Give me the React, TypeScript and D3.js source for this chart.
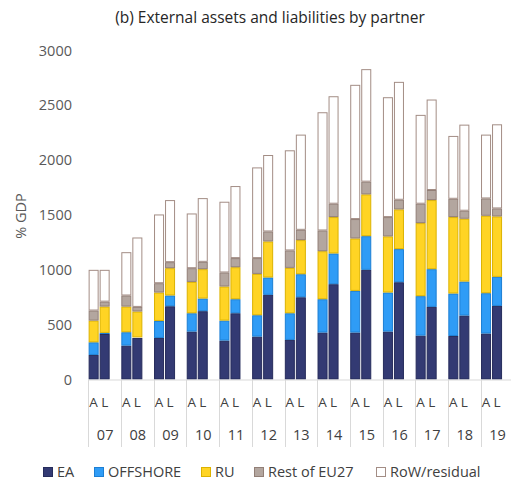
import { useEffect, useRef } from 'react';
import * as d3 from 'd3';

// años y sub-categorías (A = activos, L = pasivos)
const years = ['07', '08', '09', '10', '11', '12', '13', '14', '15', '16', '17', '18', '19'];
const sides = ['A', 'L'];

// valores (% del PIB)
const eaA = [224, 309, 379, 437, 355, 391, 361, 428, 428, 437, 400, 397, 419];
const eaL = [415, 379, 668, 623, 604, 772, 750, 869, 1000, 887, 662, 583, 671];
const offA = [115, 122, 155, 167, 182, 195, 243, 304, 380, 356, 360, 387, 368];
const offL = [10, 5, 98, 115, 128, 158, 210, 280, 307, 302, 344, 310, 265];
const ruA = [198, 234, 259, 286, 311, 377, 414, 438, 478, 512, 666, 697, 706];
const ruL = [240, 236, 249, 268, 292, 329, 311, 332, 381, 362, 630, 573, 551];
const euA = [92, 101, 85, 125, 128, 144, 159, 189, 177, 176, 177, 167, 158];
const euL = [45, 42, 55, 67, 83, 91, 94, 122, 116, 88, 92, 73, 73];
const rowA = [371, 395, 627, 499, 645, 827, 913, 1078, 1224, 1093, 810, 573, 582];
const rowL = [290, 633, 566, 581, 657, 697, 868, 980, 1026, 1075, 825, 785, 767];

const yTicks = [0, 500, 1000, 1500, 2000, 2500, 3000];

const series = [
  { key: 'EA', fill: '#333a73', stroke: '#262c5c' },
  { key: 'OFFSHORE', fill: '#2f9cf6', stroke: '#1c7fd4' },
  { key: 'RU', fill: '#ffd424', stroke: '#dcb200' },
  { key: 'Rest of EU27', fill: '#b3a69f', stroke: '#927f77' },
  { key: 'RoW/residual', fill: '#ffffff', stroke: '#a38d85' },
];

const FONT = '"Open Sans", sans-serif';

const App = () => {
  const svgRef = useRef<SVGSVGElement>(null);

  useEffect(() => {
    if (!svgRef.current) return;
    const svg = d3.select(svgRef.current);
    svg.selectAll('*').remove();

    // tabla plana: una fila por año y lado
    const rows = years.flatMap((yr, i) => [
      { year: yr, side: 'A', EA: eaA[i], OFFSHORE: offA[i], RU: ruA[i], 'Rest of EU27': euA[i], 'RoW/residual': rowA[i] },
      { year: yr, side: 'L', EA: eaL[i], OFFSHORE: offL[i], RU: ruL[i], 'Rest of EU27': euL[i], 'RoW/residual': rowL[i] },
    ]);

    const x = d3.scaleBand().domain(years).range([88.3, 513.4]).padding(0);
    // tres huecos por año: A, L y uno vacío
    const xSub = d3.scaleBand().domain([...sides, '']).range([0, x.bandwidth()]).paddingInner(0.09).paddingOuter(0.03);
    const y = d3.scaleLinear().domain([0, 3000]).range([379.5, 50.5]);

    const stack = d3.stack<any>().keys(series.map(s => s.key));
    const layers = stack(rows);

    // título
    svg.append('text')
      .attr('x', 270).attr('y', 23)
      .attr('text-anchor', 'middle')
      .attr('font-family', FONT).attr('font-size', 15.5)
      .attr('fill', '#262626')
      .text('(b) External assets and liabilities by partner');

    // eje y
    svg.append('g').selectAll('text').data(yTicks).enter().append('text')
      .attr('x', 72).attr('y', d => y(d)).attr('dy', '0.35em')
      .attr('text-anchor', 'end')
      .attr('font-family', FONT).attr('font-size', 14.5)
      .attr('fill', '#595959')
      .text(d => d);

    svg.append('text')
      .attr('transform', `translate(26,216) rotate(-90)`)
      .attr('text-anchor', 'middle')
      .attr('font-family', FONT).attr('font-size', 14.5)
      .attr('fill', '#595959')
      .text('% GDP');

    // barras apiladas
    const g = svg.append('g');
    layers.forEach((layer, li) => {
      const s = series[li];
      g.append('g').selectAll('rect').data(layer).enter().append('rect')
        .attr('x', d => x(d.data.year)! + xSub(d.data.side)! + 0.5)
        .attr('y', d => y(d[1]) + 0.5)
        .attr('width', xSub.bandwidth() - 1)
        .attr('height', d => Math.max(0, y(d[0]) - y(d[1]) - 1))
        .attr('fill', s.fill)
        .attr('stroke', s.stroke)
        .attr('stroke-width', 1);
    });

    // eje x multinivel
    const ax = svg.append('g');
    ax.append('line')
      .attr('x1', 88.3).attr('x2', 513.4).attr('y1', 380).attr('y2', 380)
      .attr('stroke', '#d9d9d9');
    ax.selectAll('line.sep').data(years).enter().append('line').attr('class', 'sep')
      .attr('x1', d => Math.round(x(d)!) + 0.5).attr('x2', d => Math.round(x(d)!) + 0.5)
      .attr('y1', 380).attr('y2', 447)
      .attr('stroke', '#d9d9d9');

    rows.forEach(r => {
      ax.append('text')
        .attr('x', x(r.year)! + xSub(r.side)! + xSub.bandwidth() / 2)
        .attr('y', 402).attr('dy', '0.35em')
        .attr('text-anchor', 'middle')
        .attr('font-family', FONT).attr('font-size', 13.5)
        .attr('fill', '#404040')
        .text(r.side);
    });

    ax.selectAll('text.yr').data(years).enter().append('text').attr('class', 'yr')
      .attr('x', d => x(d)! + x.bandwidth() / 2 + 0.5)
      .attr('y', 435).attr('dy', '0.35em')
      .attr('text-anchor', 'middle')
      .attr('font-family', FONT).attr('font-size', 14.5)
      .attr('fill', '#404040')
      .text(d => d);

    // leyenda
    const legX = [43, 94, 201, 254, 376];
    const leg = svg.append('g');
    series.forEach((s, i) => {
      leg.append('rect')
        .attr('x', legX[i] + 0.5).attr('y', 467.5)
        .attr('width', 9).attr('height', 9)
        .attr('fill', s.fill).attr('stroke', s.stroke);
      leg.append('text')
        .attr('x', legX[i] + 14).attr('y', 472).attr('dy', '0.35em')
        .attr('font-family', FONT).attr('font-size', 14.5)
        .attr('fill', '#404040')
        .text(s.key);
    });
  }, []);

  return <svg ref={svgRef} width={511} height={486} style={{ display: 'block', position: 'absolute', left: 0, top: 0 }} />;
};

export default App;
